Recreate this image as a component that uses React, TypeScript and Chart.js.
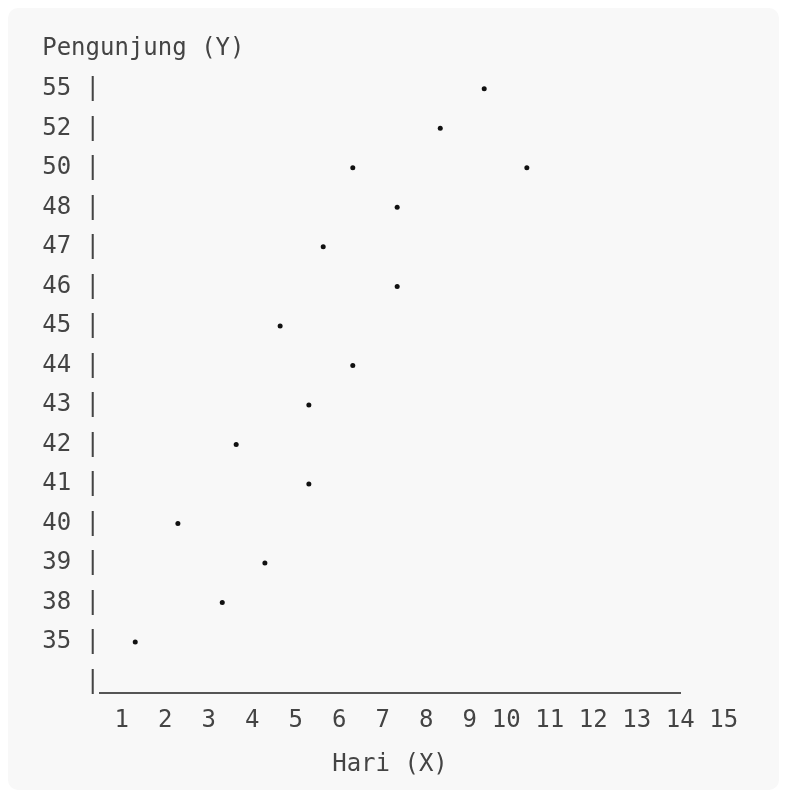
import React, { useEffect, useRef } from "react";
import { Chart, registerables } from "chart.js";

Chart.register(...registerables);

const FONT = "'DejaVu Sans Mono', 'Liberation Mono', monospace";
const TEXT = "#444444";

// Y rows (bottom to top) as printed on the left side
const visitorLabels = ["35", "38", "39", "40", "41", "42", "43", "44", "45", "46", "47", "48", "50", "52", "55"];
// Points: day position (X) and visitors (Y)
const dayValues = [1.31, 3.31, 4.29, 2.29, 5.3, 3.63, 5.3, 6.31, 4.64, 7.33, 5.63, 7.33, 6.31, 10.31, 8.32, 9.33];
const visitorValues = [35, 38, 39, 40, 41, 42, 43, 44, 45, 46, 47, 48, 50, 50, 52, 55];
const xTickValues = [1, 2, 3, 4, 5, 6, 7, 8, 9, 10, 11, 12, 13, 14, 15];

const yTitle = "Pengunjung (Y)";
const xTitle = "Hari (X)";

export default function App() {
  const ref = useRef<HTMLCanvasElement | null>(null);

  useEffect(() => {
    if (!ref.current) return;
    const points = dayValues.map((x, i) => ({
      x,
      y: visitorLabels.indexOf(String(visitorValues[i])) + 1,
    }));
    const rowTicks = [0, ...visitorLabels.map((_, i) => i + 1)];

    const chart = new Chart(ref.current, {
      type: "scatter",
      data: {
        datasets: [
          {
            data: points,
            backgroundColor: "#111111",
            borderColor: "#111111",
            pointRadius: 2.5,
            pointHoverRadius: 2.5,
            borderWidth: 0,
            clip: false,
          },
        ],
      },
      options: {
        animation: false,
        responsive: true,
        maintainAspectRatio: false,
        layout: { padding: { left: 34.2, right: 99, top: 0, bottom: 10.6 } },
        plugins: {
          legend: { display: false },
          tooltip: { enabled: false },
          title: {
            display: true,
            text: yTitle,
            align: "start",
            color: TEXT,
            font: { family: FONT, size: 24, weight: "normal" },
            padding: { top: 26, bottom: 26 },
          },
        },
        scales: {
          x: {
            type: "linear",
            min: 0.5,
            max: 13.83,
            afterBuildTicks: (axis: any) => {
              axis.ticks = xTickValues.map((v) => ({ value: v }));
            },
            grid: { display: false, drawTicks: false },
            border: { display: true, color: "#555555", width: 2 },
            ticks: {
              autoSkip: false,
              maxRotation: 0,
              padding: 14,
              color: TEXT,
              font: { family: FONT, size: 24 },
              callback: (v: any) => {
                const s = String(v);
                return s.length > 1 ? s + " " : s;
              },
            },
            title: {
              display: true,
              text: xTitle,
              color: TEXT,
              font: { family: FONT, size: 24 },
              padding: { top: 1.2, bottom: 0 },
            },
          },
          y: {
            type: "linear",
            min: -0.28,
            max: visitorLabels.length,
            afterBuildTicks: (axis: any) => {
              axis.ticks = rowTicks.map((v) => ({ value: v }));
            },
            grid: { display: false, drawTicks: false },
            border: { display: false },
            ticks: {
              autoSkip: false,
              padding: 0,
              color: TEXT,
              font: { family: FONT, size: 24 },
              callback: (v: any) => {
                const n = Math.round(Number(v));
                return n === 0 ? "|" : `${visitorLabels[n - 1]} |`;
              },
            },
          },
        },
      },
    });
    return () => chart.destroy();
  }, []);

  return (
    <div
      style={{
        position: "relative",
        height: 782,
        background: "#f8f8f8",
        borderRadius: 10,
      }}
    >
      <canvas ref={ref} />
    </div>
  );
}
